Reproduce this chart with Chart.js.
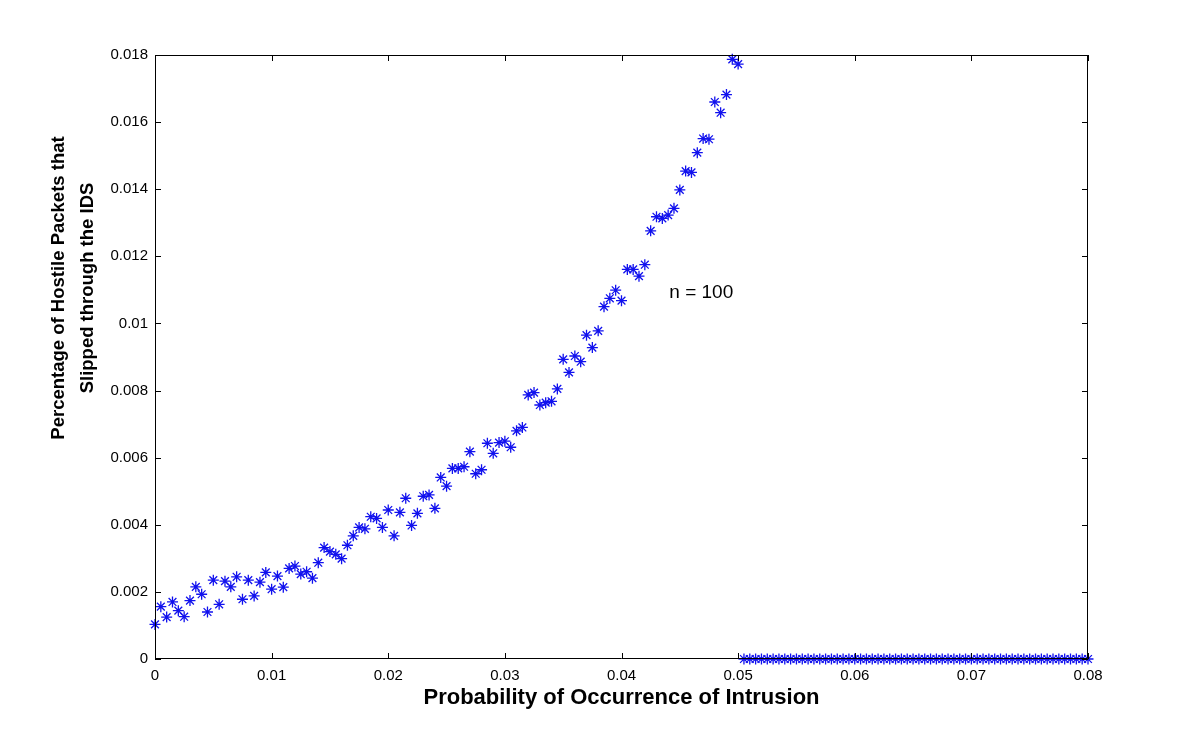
<!DOCTYPE html>
<html>
<head>
<meta charset="utf-8">
<script src="https://cdn.jsdelivr.net/npm/chart.js@4.4.1/dist/chart.umd.min.js"></script>
<style>
  body { margin: 0; background: #fff; }
  #wrap { width: 1200px; height: 742px; }
</style>
</head>
<body>
<div id="wrap"><canvas id="scatterChart"></canvas></div>
<script>
// DATA
const xStep = 0.0005;

// values, x = 0 ... 0.05
const slippedValues = [
  0.00103, 0.00156, 0.00125, 0.00170, 0.00144, 0.00126, 0.00174, 0.00215, 0.00193, 0.00140,
  0.00235, 0.00163, 0.00232, 0.00215, 0.00245, 0.00178, 0.00235, 0.00188, 0.00229, 0.00258,
  0.00208, 0.00247, 0.00214, 0.00270, 0.00277, 0.00253, 0.00260, 0.00241, 0.00287, 0.00332,
  0.00320, 0.00312, 0.00299, 0.00339, 0.00367, 0.00392, 0.00388, 0.00424, 0.00419, 0.00392,
  0.00444, 0.00367, 0.00437, 0.00479, 0.00398, 0.00434, 0.00485, 0.00489, 0.00449, 0.00541,
  0.00515, 0.00568, 0.00568, 0.00573, 0.00618, 0.00552, 0.00564, 0.00643, 0.00613, 0.00645,
  0.00649, 0.00631, 0.00680, 0.00690, 0.00787, 0.00794, 0.00757, 0.00764, 0.00768, 0.00805,
  0.00893, 0.00854, 0.00903, 0.00886, 0.00965, 0.00928, 0.00978, 0.01050, 0.01075, 0.01099,
  0.01068, 0.01161, 0.01161, 0.01141, 0.01175, 0.01276, 0.01318, 0.01313, 0.01323, 0.01343,
  0.01398, 0.01454, 0.01450, 0.01509, 0.01551, 0.01549, 0.01660, 0.01628, 0.01682, 0.01787,
  0.01773
];

// x = 0.0505 ... 0.08, all at zero
const zeroValues = [
  0, 0, 0, 0, 0, 0, 0, 0, 0, 0, 0, 0, 0, 0, 0, 0, 0, 0, 0, 0,
  0, 0, 0, 0, 0, 0, 0, 0, 0, 0, 0, 0, 0, 0, 0, 0, 0, 0, 0, 0,
  0, 0, 0, 0, 0, 0, 0, 0, 0, 0, 0, 0, 0, 0, 0, 0, 0, 0, 0, 0
];

const xTicks = [0, 0.01, 0.02, 0.03, 0.04, 0.05, 0.06, 0.07, 0.08];
const yTicks = [0, 0.002, 0.004, 0.006, 0.008, 0.01, 0.012, 0.014, 0.016, 0.018];

const allValues = slippedValues.concat(zeroValues);
const points = allValues.map((v, i) => ({ x: i * xStep, y: v }));

const FONT = "'Liberation Sans', Arial, Helvetica, sans-serif";

function fmt(v) {
  return String(Number(v.toFixed(4)));
}

// box + inward ticks + labels that chart.js can't place itself
const matlabFrame = {
  id: "matlabFrame",
  afterDraw(chart) {
    const { ctx, chartArea: a, scales } = chart;
    const len = 6;
    ctx.save();
    ctx.strokeStyle = "#000";
    ctx.lineWidth = 1;
    ctx.beginPath();
    ctx.rect(a.left + 0.5, a.top + 0.5, a.right - a.left - 1, a.bottom - a.top - 1);
    xTicks.forEach(t => {
      const px = Math.round(scales.x.getPixelForValue(t)) + 0.5;
      ctx.moveTo(px, a.bottom); ctx.lineTo(px, a.bottom - len);
      ctx.moveTo(px, a.top); ctx.lineTo(px, a.top + len);
    });
    yTicks.forEach(t => {
      const py = Math.round(scales.y.getPixelForValue(t)) + 0.5;
      ctx.moveTo(a.left, py); ctx.lineTo(a.left + len, py);
      ctx.moveTo(a.right, py); ctx.lineTo(a.right - len, py);
    });
    ctx.stroke();

    // n = 100 label
    ctx.fillStyle = "#000";
    ctx.font = "19px " + FONT;
    ctx.textAlign = "left";
    ctx.textBaseline = "middle";
    ctx.fillText("n = 100", scales.x.getPixelForValue(0.0441), scales.y.getPixelForValue(0.0109));

    // y axis title (two lines, sits above the plot centre)
    ctx.translate(59, 288);
    ctx.rotate(-Math.PI / 2);
    ctx.font = "bold 18.5px " + FONT;
    ctx.textAlign = "center";
    ctx.fillText("Percentage of Hostile Packets that", 0, 0);
    ctx.fillText("Slipped through the IDS", 0, 29);
    ctx.restore();
  }
};

new Chart(document.getElementById("scatterChart"), {
  type: "scatter",
  data: {
    datasets: [{
      data: points,
      pointStyle: "star",
      pointRadius: 5.5,
      pointHoverRadius: 5.5,
      borderColor: "#1111ee",
      backgroundColor: "#1111ee",
      borderWidth: 1.3,
      clip: false
    }]
  },
  options: {
    responsive: true,
    maintainAspectRatio: false,
    animation: false,
    layout: { padding: { top: 55, right: 112, left: 0, bottom: 0 } },
    plugins: {
      legend: { display: false },
      tooltip: { enabled: false }
    },
    scales: {
      x: {
        type: "linear",
        min: 0,
        max: 0.08,
        afterFit(scale) { scale.height = 83; },
        afterBuildTicks(scale) { scale.ticks = xTicks.map(v => ({ value: v })); },
        grid: { display: false, drawTicks: false },
        border: { display: false },
        ticks: {
          color: "#000",
          padding: 8,
          maxRotation: 0,
          autoSkip: false,
          font: { family: FONT, size: 15 },
          callback: v => fmt(v)
        },
        title: {
          display: true,
          text: "Probability of Occurrence of Intrusion",
          color: "#000",
          font: { family: FONT, size: 22, weight: "bold", lineHeight: 1.2 },
          padding: { top: 0, bottom: 31 }
        }
      },
      y: {
        min: 0,
        max: 0.018,
        afterFit(scale) { scale.width = 155; },
        afterBuildTicks(scale) { scale.ticks = yTicks.map(v => ({ value: v })); },
        grid: { display: false, drawTicks: false },
        border: { display: false },
        ticks: {
          color: "#000",
          padding: 7,
          autoSkip: false,
          font: { family: FONT, size: 15 },
          callback: v => fmt(v)
        }
      }
    }
  },
  plugins: [matlabFrame]
});
</script>
</body>
</html>
